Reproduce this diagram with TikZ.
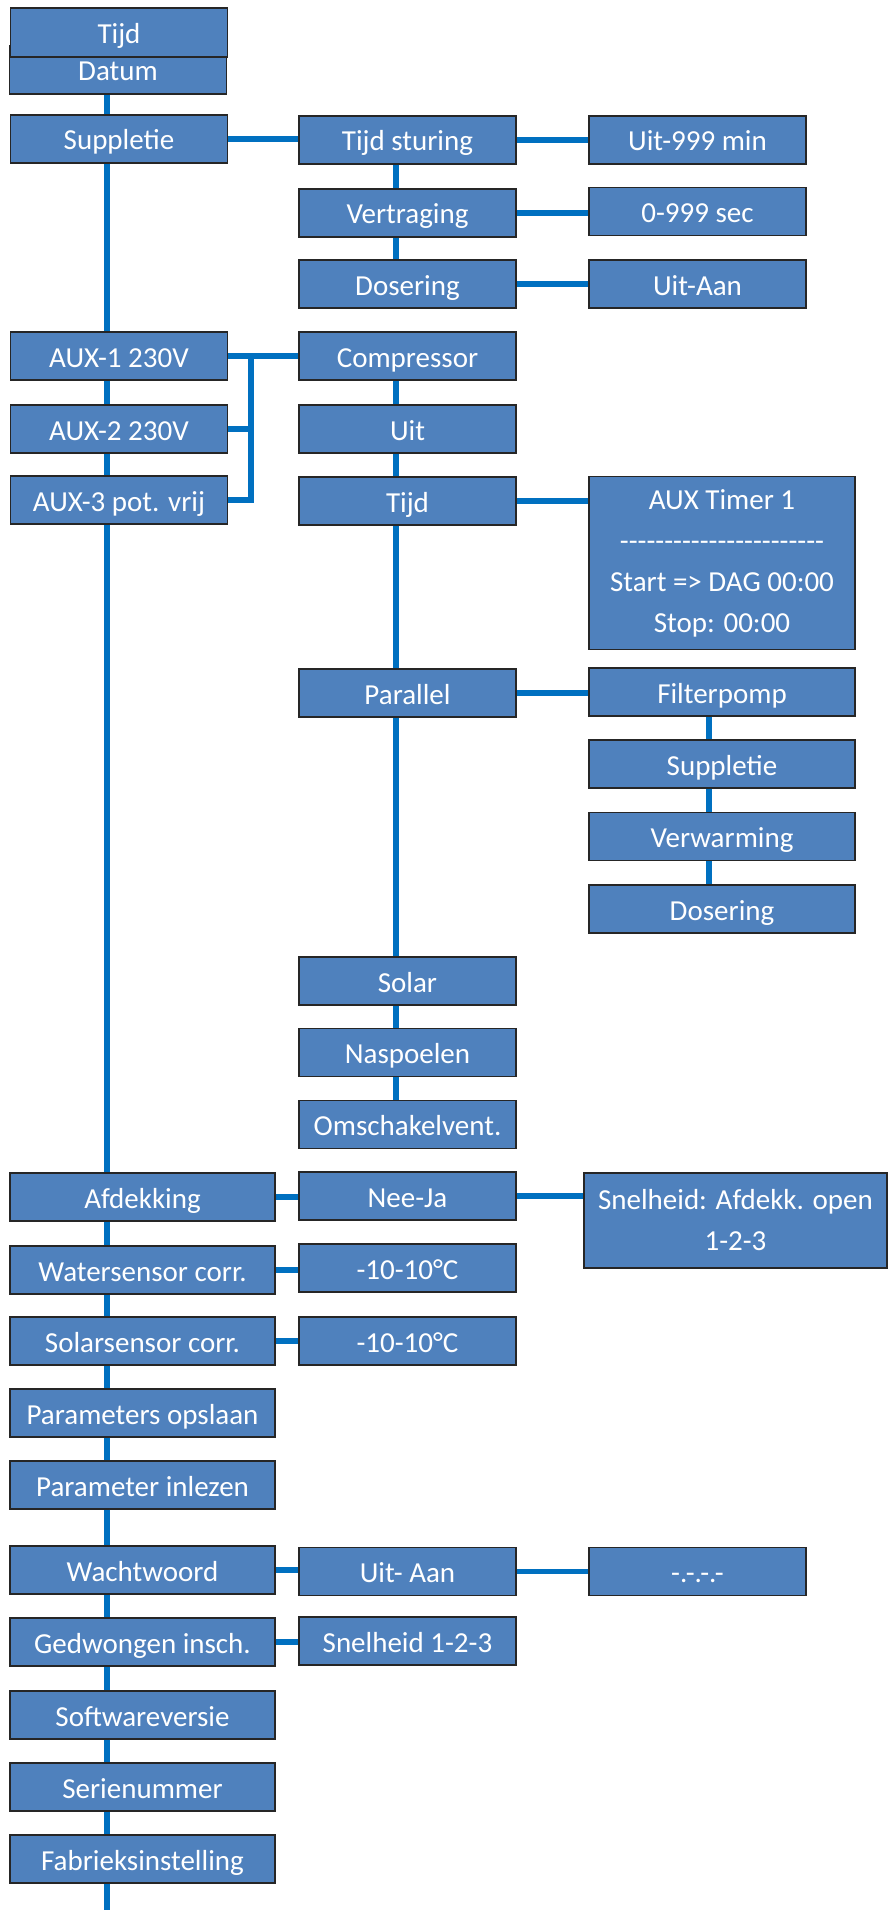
\documentclass[tikz,border=0pt]{standalone}
\usepackage{fontspec}
\setmainfont{Carlito}
\usepackage{tikz}
\definecolor{boxblue}{HTML}{4F81BD}
\definecolor{linkblue}{HTML}{0070C0}
\tikzstyle{menubase} = [draw=black!85, line width=1.2pt, fill=boxblue, text=white, rectangle,
	minimum width=217pt, minimum height=48pt, inner sep=0pt,
	align=center, font=\fontsize{29}{41}\selectfont]
\tikzstyle{menu} = [menubase, text height=22pt, text depth=0pt]
\tikzstyle{menuwide} = [menu, minimum width=265pt]
\tikzstyle{link} = [draw=linkblue, line width=5.5pt]
\tikzstyle{output} = [coordinate]
\newcommand{\dashrow}{\foreach \i in {1,...,23}{-{}}}

\begin{document}
\begin{tikzpicture}[x=1pt, y=-1pt]
	\useasboundingbox (0,0) rectangle (888,1910);
	%\draw[help lines,step=100] (0,0) grid (888,1910);

	% left column
	\node [menu] (datum) at (118, 70) {Datum};
	\node [menu, minimum height=49pt] (tijd) at (119, 32.5) {Tijd};
	\node [menu] (suppl) at (119, 139) {Suppletie};
	\node [menu] (auxa) at (119, 356) {AUX-1 230V};
	\node [menu] (auxb) at (119, 429) {AUX-2 230V};
	\node [menu] (auxc) at (119, 500) {AUX-3 pot. vrij};
	\node [menuwide] (afdek) at (142.5, 1197) {Afdekking};
	\node [menuwide] (watcorr) at (142.5, 1270) {Watersensor corr.};
	\node [menuwide] (solcorr) at (142.5, 1341) {Solarsensor corr.};
	\node [menuwide] (paropsl) at (142.5, 1413) {Parameters opslaan};
	\node [menuwide] (parinl) at (142.5, 1485) {Parameter inlezen};
	\node [menuwide] (wacht) at (142.5, 1570) {Wachtwoord};
	\node [menuwide] (gedw) at (142.5, 1642) {Gedwongen insch.};
	\node [menuwide] (softw) at (142.5, 1715) {Softwareversie};
	\node [menuwide] (serie) at (142.5, 1787) {Serienummer};
	\node [menuwide] (fabriek) at (142.5, 1859) {Fabrieksinstelling};

	% middle column
	\node [menu] (tsturing) at (407.5, 140) {Tijd sturing};
	\node [menu] (vertr) at (407.5, 213) {Vertraging};
	\node [menu] (dosmid) at (407.5, 284) {Dosering};
	\node [menu] (compr) at (407.5, 356) {Compressor};
	\node [menu] (uit) at (407.5, 429) {Uit};
	\node [menu] (tijdmid) at (407.5, 501) {Tijd};
	\node [menu] (parallel) at (407.5, 693) {Parallel};
	\node [menu] (solar) at (407.5, 981) {Solar};
	\node [menu] (naspoel) at (407.5, 1052.5) {Naspoelen};
	\node [menu] (omsch) at (407.5, 1124.5) {Omschakelvent.};
	\node [menu] (neeja) at (407.5, 1196) {Nee-Ja};
	\node [menu] (watval) at (407.5, 1268) {-10-10°C};
	\node [menu] (solval) at (407.5, 1341) {-10-10°C};
	\node [menu] (uitaan2) at (407.5, 1571.5) {Uit- Aan};
	\node [menu] (snel123) at (407.5, 1641) {Snelheid 1-2-3};

	% right column
	\node [menu] (uit999) at (697.5, 140) {Uit-999 min};
	\node [menu] (sec999) at (697.5, 211.5) {0-999 sec};
	\node [menu] (uitaan) at (697.5, 284) {Uit-Aan};
	\node [menubase, minimum width=266pt, minimum height=173pt] (timer) at (722, 563)
		{AUX Timer 1\\ \dashrow\\ Start => DAG 00:00\\ Stop: 00:00};
	\node [menu, minimum width=266pt] (filter) at (722, 692) {Filterpomp};
	\node [menu, minimum width=266pt] (supplr) at (722, 764) {Suppletie};
	\node [menu, minimum width=266pt] (verw) at (722, 836.5) {Verwarming};
	\node [menu, minimum width=266pt] (dosr) at (722, 909) {Dosering};
	\node [menubase, minimum width=303pt, minimum height=95pt] (snelheid) at (735.5, 1220.5)
		{Snelheid: Afdekk. open\\ 1-2-3};
	\node [menu] (pw) at (697.5, 1571.5) {-.-.-.-};

	% vertical lines
	\coordinate (trunkend) at (107, 1910);
	\coordinate (midline) at (396, 0);
	\coordinate (rightline) at (709, 0);
	\foreach \a/\b in {datum/suppl, suppl/auxa, auxa/auxb, auxb/auxc, auxc/afdek, afdek/watcorr,
		watcorr/solcorr, solcorr/paropsl, paropsl/parinl, parinl/wacht, wacht/gedw, gedw/softw,
		softw/serie, serie/fabriek}
		\draw [link] (\a.south -| trunkend) -- (\b.north -| trunkend);
	\draw [link] (fabriek.south -| trunkend) -- (trunkend);
	\foreach \a/\b in {tsturing/vertr, vertr/dosmid, compr/uit, uit/tijdmid, tijdmid/parallel,
		parallel/solar, solar/naspoel, naspoel/omsch}
		\draw [link] (\a.south -| midline) -- (\b.north -| midline);
	\foreach \a/\b in {filter/supplr, supplr/verw, verw/dosr}
		\draw [link] (\a.south -| rightline) -- (\b.north -| rightline);

	% horizontal lines
	\foreach \a/\b in {suppl/tsturing, tsturing/uit999, vertr/sec999, dosmid/uitaan, auxa/compr,
		tijdmid/timer, parallel/filter, afdek/neeja, neeja/snelheid, watcorr/watval, solcorr/solval,
		wacht/uitaan2, uitaan2/pw, gedw/snel123}
		\draw [link] (\a.east) -- (\a.east -| \b.west);

	% AUX bracket
	\coordinate (bracket) at (251, 0);
	\draw [link] (auxb.east) -| (bracket |- auxa.east);
	\draw [link] (auxc.east) -| (bracket |- auxa.east);
\end{tikzpicture}
\end{document}
